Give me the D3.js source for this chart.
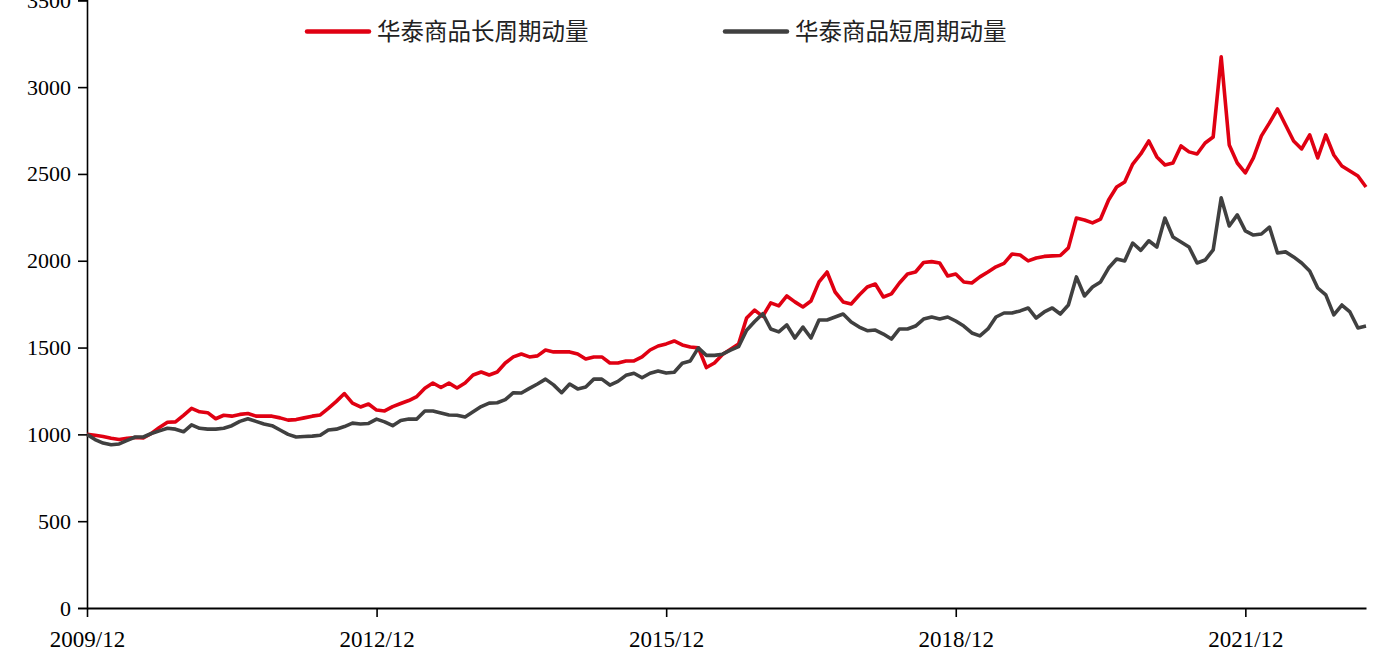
<!DOCTYPE html>
<html>
<head>
<meta charset="utf-8">
<script src="https://cdn.jsdelivr.net/npm/d3@7"></script>
<style>
html,body{margin:0;padding:0;background:#fff;}
svg{display:block;}
</style>
</head>
<body>
<svg id="chart" width="1383" height="663"></svg>
<script>
const seriesNames = ["华泰商品长周期动量", "华泰商品短周期动量"];
const xTickLabels = ["2009/12", "2012/12", "2015/12", "2018/12", "2021/12"];
const yTicks = [0, 500, 1000, 1500, 2000, 2500, 3000, 3500];

const longMomentum = [
  1000, 995, 988, 978, 970, 978, 982, 980, 1005, 1040,
  1070, 1072, 1110, 1150, 1130, 1125, 1090, 1110, 1105, 1115,
  1120, 1105, 1105, 1105, 1095, 1082, 1085, 1095, 1105, 1112,
  1150, 1190, 1235, 1180, 1158, 1175, 1140, 1135, 1160, 1178,
  1195, 1218, 1265, 1296, 1270, 1295, 1267, 1296, 1342, 1359,
  1342, 1359, 1411, 1446, 1463, 1446, 1452, 1486, 1475, 1475,
  1475, 1463, 1434, 1446, 1446, 1411, 1411, 1423, 1423, 1446,
  1486, 1509, 1521, 1538, 1515, 1503, 1498, 1385, 1411, 1460,
  1490, 1520, 1670, 1716, 1680, 1757, 1740, 1797, 1763, 1734,
  1768, 1878, 1935, 1820, 1763, 1751, 1803, 1849, 1866, 1791,
  1809, 1872, 1924, 1935, 1990, 1995, 1987, 1912, 1924, 1878,
  1872, 1907, 1935, 1965, 1985, 2039, 2033, 1999, 2016, 2025,
  2028, 2030, 2074, 2246, 2235, 2218, 2240, 2350, 2425, 2454,
  2557, 2615, 2690, 2598, 2552, 2563, 2661, 2627, 2615, 2678,
  2713, 3174, 2667, 2563, 2506, 2592, 2719, 2794, 2874, 2782,
  2690, 2644, 2725, 2592, 2725, 2609, 2546, 2517, 2488, 2425
];
const shortMomentum = [
  1000, 970, 950, 940, 945, 965, 985, 985, 1005, 1020,
  1035, 1030, 1015, 1055, 1035, 1030, 1030, 1035, 1050, 1075,
  1090, 1075, 1060, 1050, 1025, 1000, 985, 988, 990, 995,
  1025, 1030, 1045, 1065, 1060, 1063, 1088, 1072, 1050, 1080,
  1088, 1088, 1135, 1135, 1123, 1112, 1110, 1100, 1130, 1160,
  1180, 1182, 1200, 1240, 1238, 1265, 1290, 1318, 1285, 1240,
  1290, 1262, 1273, 1318, 1318, 1284, 1305, 1340, 1352, 1326,
  1352, 1365, 1353, 1358, 1410, 1423, 1498, 1455, 1455, 1462,
  1485, 1505, 1600, 1650, 1695, 1607, 1590, 1630, 1555, 1618,
  1555, 1659, 1659, 1676, 1693, 1647, 1618, 1597, 1601, 1578,
  1549, 1607, 1607, 1624, 1664, 1676, 1665, 1676, 1653, 1624,
  1584, 1567, 1607, 1676, 1699, 1699, 1711, 1728, 1670, 1705,
  1728, 1693, 1745, 1907, 1797, 1849, 1878, 1958, 2010, 1999,
  2102, 2060, 2115, 2079, 2246, 2137, 2108, 2079, 1987, 2004,
  2062, 2362, 2200, 2264, 2172, 2148, 2154, 2194, 2045, 2051,
  2022, 1987, 1941, 1843, 1803, 1688, 1745, 1705, 1613, 1624
];
// monthly categories 2009/12 .. 2023/03
const fmt = d3.timeFormat("%Y/%m");
const months = d3.timeMonth.range(new Date(2009, 11, 1), new Date(2023, 3, 1)).map(fmt);

const colors = ["#E00012", "#404040"];

const svg = d3.select("#chart");
const mLeft = 87, mRight = 1366, mTop = 0.3, mBottom = 608;

const x = d3.scalePoint().domain(months).range([mLeft, mRight]);
const y = d3.scaleLinear().domain([0, 3500]).range([mBottom, mTop]);

const font = "'Liberation Serif','Times New Roman',serif";

// Y axis
const yAxis = svg.append("g")
  .attr("transform", `translate(${mLeft},0)`)
  .call(d3.axisLeft(y).tickValues(yTicks).tickSize(9).tickPadding(7).tickFormat(d3.format("d")));
yAxis.select(".domain").attr("stroke", "#000").attr("stroke-width", 1.6);
yAxis.selectAll(".tick line").attr("stroke", "#000").attr("stroke-width", 1.6);
yAxis.selectAll(".tick text")
  .attr("font-family", font).attr("font-size", 22).attr("fill", "#000");

// lines
const series = [longMomentum, shortMomentum];
const line = d3.line().x((d, i) => x(months[i])).y(d => y(d));
series.forEach((s, k) => {
  svg.append("path")
    .datum(s)
    .attr("fill", "none")
    .attr("stroke", colors[k])
    .attr("stroke-width", 3.6)
    .attr("stroke-linejoin", "round")
    .attr("d", line);
});

// X axis
const xAxis = svg.append("g")
  .attr("transform", `translate(0,${mBottom})`)
  .call(d3.axisBottom(x).tickValues(xTickLabels).tickSize(9).tickPadding(14).tickSizeOuter(0));
xAxis.select(".domain").attr("stroke", "#000").attr("stroke-width", 2.2);
xAxis.selectAll(".tick line").attr("stroke", "#000").attr("stroke-width", 1.6);
xAxis.selectAll(".tick text")
  .attr("font-family", font).attr("font-size", 23).attr("fill", "#000");

// legend
const legendItems = [
  {x0: 307, x1: 369, tx: 377},
  {x0: 725, x1: 787, tx: 795}
];
legendItems.forEach((it, k) => {
  svg.append("line")
    .attr("x1", it.x0).attr("x2", it.x1)
    .attr("y1", 31.5).attr("y2", 31.5)
    .attr("stroke", colors[k]).attr("stroke-width", 4.5)
    .attr("stroke-linecap", "round");
  svg.append("text")
    .attr("x", it.tx).attr("y", 31.5)
    .attr("dy", "0.35em")
    .attr("font-family", "'Noto Sans CJK SC','Noto Sans',sans-serif")
    .attr("font-size", 23.5)
    .attr("fill", "#222")
    .text(seriesNames[k]);
});
</script>
</body>
</html>
